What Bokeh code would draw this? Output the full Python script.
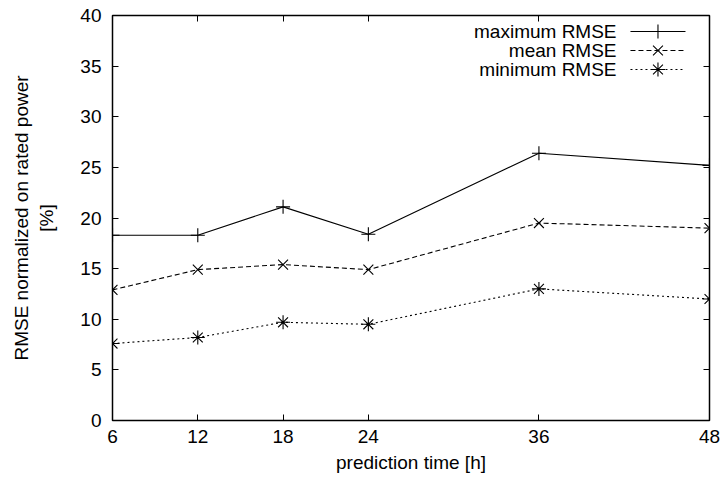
from bokeh.plotting import figure
from bokeh.models import Range1d, LinearAxis, FixedTicker, ColumnDataSource
from bokeh.embed import file_html
from bokeh.resources import INLINE
from bokeh.core.properties import value

hours = [6, 12, 18, 24, 36, 48]
max_rmse = [18.3, 18.3, 21.1, 18.4, 26.4, 25.2]
mean_rmse = [12.9, 14.9, 15.4, 14.9, 19.5, 19.0]
min_rmse = [7.6, 8.2, 9.7, 9.5, 13.0, 12.0]
series_labels = ["maximum RMSE", "mean RMSE", "minimum RMSE"]
y_ticks = [0, 5, 10, 15, 20, 25, 30, 35, 40]

FONT = "Liberation Sans"
FS = "19px"

p = figure(width=724, height=487, output_backend="svg", toolbar_location=None,
           x_range=Range1d(6, 48), y_range=Range1d(0, 40),
           min_border_left=112, min_border_right=15, min_border_top=15, min_border_bottom=67)
p.background_fill_color = "white"
p.border_fill_color = "white"
p.outline_line_color = "black"
p.outline_line_width = 1.5
p.grid.visible = False


def style_axis(ax):
    ax.major_tick_in = 6
    ax.major_tick_out = 0
    ax.minor_tick_line_color = None
    ax.axis_line_color = None
    ax.major_tick_line_color = "black"
    ax.major_label_text_font = FONT
    ax.major_label_text_font_size = FS
    ax.major_label_text_color = "black"
    ax.axis_label_text_font = FONT
    ax.axis_label_text_font_size = FS
    ax.axis_label_text_font_style = "normal"
    ax.axis_label_text_color = "black"


p.xaxis.ticker = FixedTicker(ticks=hours)
p.yaxis.ticker = FixedTicker(ticks=y_ticks)
for ax in p.xaxis + p.yaxis:
    style_axis(ax)
p.xaxis.major_label_standoff = 9
p.yaxis.major_label_standoff = 11
p.xaxis.axis_label = "prediction time [h]"
p.yaxis.axis_label = "RMSE normalized on rated power\n[%]"
p.xaxis.axis_label_standoff = 6
p.yaxis.axis_label_standoff = 20

top = LinearAxis(ticker=FixedTicker(ticks=hours))
right = LinearAxis(ticker=FixedTicker(ticks=y_ticks))
style_axis(top)
style_axis(right)
top.major_label_overrides = {t: "" for t in hours}
right.major_label_overrides = {t: "" for t in y_ticks}
top.major_label_standoff = 0
right.major_label_standoff = 0
p.add_layout(top, "above")
p.add_layout(right, "right")

src = ColumnDataSource(dict(x=hours, mx=max_rmse, me=mean_rmse, mn=min_rmse))
p.line("x", "mx", source=src, color="black", line_width=1.1)
p.scatter("x", "mx", source=src, marker="cross", size=14, line_color="black", line_width=1.1)
p.line("x", "me", source=src, color="black", line_width=1.1, line_dash="5 3")
p.scatter("x", "me", source=src, marker="x", size=14, line_color="black", line_width=1.1)
p.line("x", "mn", source=src, color="black", line_width=1.1, line_dash="2 3")
p.scatter("x", "mn", source=src, marker="asterisk", size=14, line_color="black", line_width=1.1)

# gnuplot-style key: right-aligned text, line sample to its right
leg_text_x = 41.46
leg_x0, leg_x1 = 42.44, 46.31
leg_ys = [38.42, 36.54, 34.67]
dashes = ["solid", "5 3", "2 3"]
markers = ["cross", "x", "asterisk"]
p.text(x=[leg_text_x] * 3, y=leg_ys, text=series_labels, text_align="right",
       text_baseline="middle", text_font=value(FONT), text_font_size=FS, text_color="black")
for yy, d, m in zip(leg_ys, dashes, markers):
    p.line([leg_x0, leg_x1], [yy, yy], color="black", line_width=1.1, line_dash=d)
    p.scatter([(leg_x0 + leg_x1) / 2], [yy], marker=m, size=14, line_color="black", line_width=1.1)

open("out.html", "w").write(file_html(p, INLINE))
